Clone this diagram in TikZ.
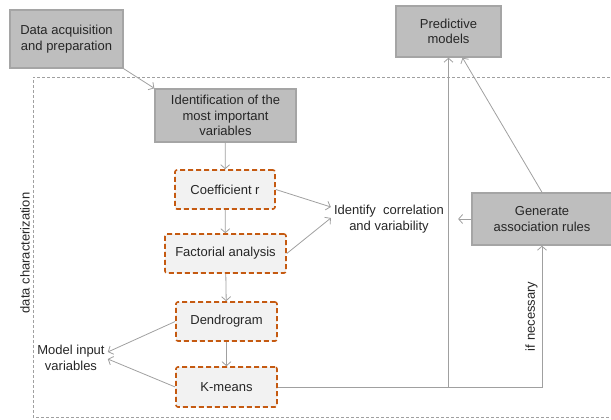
\documentclass[tikz,border=0pt]{standalone}
\usepackage{fontspec}
\setmainfont{Liberation Sans}
\usetikzlibrary{arrows.meta}
\definecolor{boxgray}{RGB}{190,190,190}
\definecolor{boxline}{RGB}{165,165,165}
\definecolor{stepfill}{RGB}{242,242,242}
\definecolor{steporange}{RGB}{197,90,17}
\definecolor{linkgray}{RGB}{160,160,160}
\definecolor{textgray}{RGB}{38,38,38}
\tikzset{
	mainbox/.style={draw=boxline, line width=1.4pt, fill=boxgray, align=center, inner sep=2pt},
	stepbox/.style={draw=steporange, line width=1.6pt, dash pattern=on 5pt off 3pt, fill=stepfill, rounded corners=2pt, align=center, inner sep=2pt},
	link/.style={draw=linkgray, line width=0.8pt, -{Straight Barb[length=4pt,width=9pt]}},
	plain/.style={align=center, inner sep=3pt}
}
\begin{document}
\begin{tikzpicture}[x=1pt, y=-1pt, font=\fontsize{13}{15.5}\selectfont, text=textgray]
		\useasboundingbox (0,0) rectangle (611,420);
		% Frame
		\draw[linkgray, line width=0.8pt, dash pattern=on 3pt off 2pt] (620,77) -- (33,77) -- (33,417) -- (620,417);
		\node[rotate=90] (frame) at (25,253) {data characterization};

		% Gray boxes
		\node[mainbox, minimum width=113pt, minimum height=58pt] (acq) at (66.5,39) {Data acquisition\\and preparation};
		\node[mainbox, minimum width=141pt, minimum height=53pt] (ident) at (225.5,115.5) {Identification of the\\most important\\variables};
		\node[mainbox, minimum width=105pt, minimum height=51pt] (pred) at (448.5,31.5) {Predictive\\models};
		\node[mainbox, minimum width=140pt, minimum height=52pt] (gen) at (542,219) {Generate\\association rules};

		% Dashed steps
		\node[stepbox, minimum width=100pt, minimum height=39pt] (coef) at (225,189.5) {Coefficient r};
		\node[stepbox, minimum width=121pt, minimum height=39pt] (fact) at (225.5,253.5) {Factorial analysis};
		\node[stepbox, minimum width=101pt, minimum height=39pt] (dend) at (226.5,321.5) {Dendrogram};
		\node[stepbox, minimum width=101pt, minimum height=40pt] (kmeans) at (226.5,387) {K-means};

		% Plain labels
		\node[plain] (corr) at (389,219) {Identify\ \ correlation\\and variability};
		\node[plain] (inputs) at (71,358) {Model input\\variables};

		% Links
		\draw[link] (acq.south east) -- (ident.north west);
		\draw[link] (ident) -- (coef);
		\draw[link] (coef) -- (fact);
		\draw[link] (fact) -- (dend);
		\draw[link] (dend) -- (kmeans);
		\draw[link] (coef.east) -- ([yshift=-5pt]corr.north west);
		\draw[link] (fact.east) -- ([yshift=1pt]corr.west);
		\draw[link] (dend.west) -- ([yshift=6pt]inputs.east);
		\draw[link] (kmeans.west) -- ([yshift=-1pt]inputs.east);
		\draw[link] (kmeans.east) -| node[pos=0.75, rotate=90, above, inner sep=4pt] (need) {if necessary} (gen.south);
		\coordinate (split) at (pred.south |- kmeans.east);
		\draw[link] (split) -- (pred.south);
		\draw[link] (gen.north) -- ([xshift=14pt]pred.south);
		\draw[link, shorten >=11pt] (gen.west) -- (corr.east);
	\end{tikzpicture}
\end{document}
